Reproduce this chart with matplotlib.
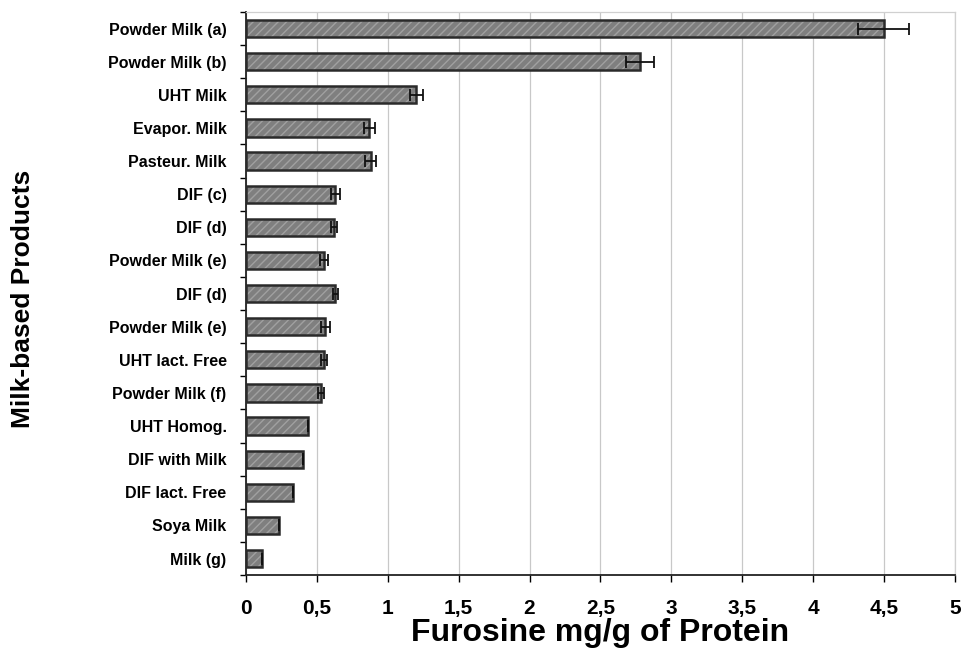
import matplotlib.pyplot as plt
import numpy as np

# furosine per product, top to bottom as in the figure
products = ['Powder Milk (a)', 'Powder Milk (b)', 'UHT Milk', 'Evapor. Milk',
            'Pasteur. Milk', 'DIF (c)', 'DIF (d)', 'Powder Milk (e)', 'DIF (d)',
            'Powder Milk (e)', 'UHT lact. Free', 'Powder Milk (f)', 'UHT Homog.',
            'DIF with Milk', 'DIF lact. Free', 'Soya Milk', 'Milk (g)']
furosine = [4.50, 2.78, 1.20, 0.87, 0.88, 0.63, 0.62, 0.55, 0.63,
            0.56, 0.55, 0.53, 0.44, 0.40, 0.33, 0.23, 0.11]
errors = [0.18, 0.10, 0.045, 0.04, 0.04, 0.03, 0.02, 0.03, 0.02,
          0.03, 0.02, 0.02, 0.0, 0.0, 0.0, 0.0, 0.0]
xticks = [0, 0.5, 1, 1.5, 2, 2.5, 3, 3.5, 4, 4.5, 5]
xticklabels = ['0', '0,5', '1', '1,5', '2', '2,5', '3', '3,5', '4', '4,5', '5']

fig = plt.figure(figsize=(9.63, 6.52), dpi=100)
ax = fig.add_axes([0.2555, 0.118, 0.736, 0.8636])

y = np.arange(len(products))

# hatched gray fill, then dark outline on top
ax.barh(y, furosine, height=0.52, color='#7f7f7f', edgecolor='#a0a0a0',
        hatch='////', linewidth=0, zorder=2)
ax.barh(y, furosine, height=0.52, color='none', edgecolor='#2a2a2a',
        linewidth=1.8, zorder=3)
ax.errorbar(furosine, y, xerr=errors, fmt='none', ecolor='#111111',
            elinewidth=1.3, capsize=4, capthick=1.3, zorder=4)

ax.set_xlim(0, 5)
ax.set_ylim(len(products) - 0.5, -0.5)
ax.set_xticks(xticks)
ax.set_xticklabels(xticklabels, fontfamily='Liberation Sans', fontweight='bold', fontsize=15)
ax.set_yticks(y)
ax.set_yticklabels(products, fontfamily='Liberation Sans', fontweight='bold', fontsize=11.5)
ax.tick_params(axis='y', length=0, pad=14)
ax.set_yticks(np.arange(len(products) + 1) - 0.5, minor=True)
ax.tick_params(axis='y', which='minor', length=4, width=1, direction='out')
ax.tick_params(axis='x', length=5, width=1, pad=12)

ax.grid(axis='x', color='#c8c8c8', linewidth=0.9, zorder=0)
ax.set_axisbelow(True)
for s in ['top', 'right']:
    ax.spines[s].set_color('#d0d0d0')
    ax.spines[s].set_linewidth(0.9)
for s in ['left', 'bottom']:
    ax.spines[s].set_color('#222222')
    ax.spines[s].set_linewidth(1.3)

ax.set_xlabel('Furosine mg/g of Protein', fontfamily='Liberation Sans',
              fontweight='bold', fontsize=23, labelpad=0)
ax.set_ylabel('Milk-based Products', fontfamily='Liberation Sans',
              fontweight='bold', fontsize=19)
ax.yaxis.set_label_coords(-0.298, 0.49)

fig.savefig('out.png', dpi=100)
